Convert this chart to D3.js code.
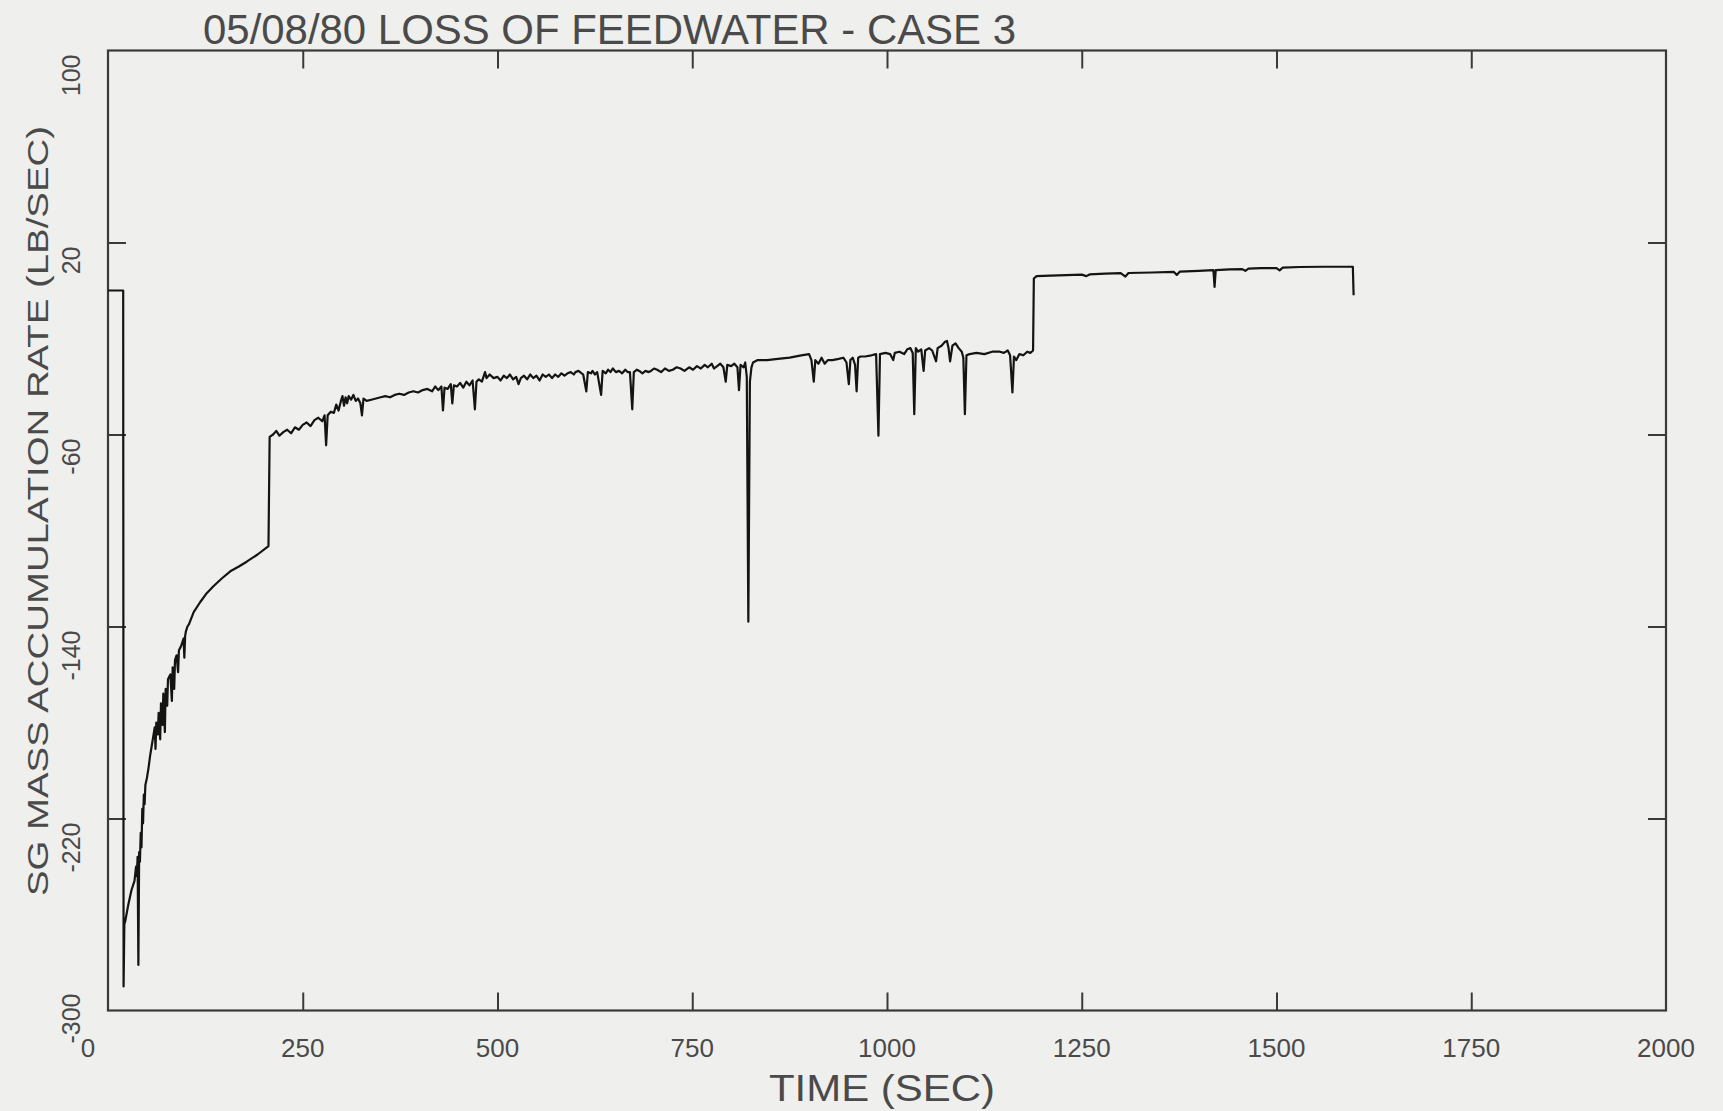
<!DOCTYPE html>
<html>
<head>
<meta charset="utf-8">
<script src="https://cdn.jsdelivr.net/npm/d3@7"></script>
<style>
  html, body { margin: 0; padding: 0; background: #efefed; }
  svg { display: block; }
  text { font-family: "Liberation Sans Narrow", "Liberation Sans", "DejaVu Sans Condensed", sans-serif; fill: #4a4a4a; }
</style>
</head>
<body>
<svg id="chart" width="1723" height="1111"></svg>
<script>
// ---- data ----
const chartTitle = "05/08/80 LOSS OF FEEDWATER - CASE 3";
const xAxisTitle = "TIME (SEC)";
const yAxisTitle = "SG MASS ACCUMULATION RATE (LB/SEC)";
const xTickValues = [0, 250, 500, 750, 1000, 1250, 1500, 1750, 2000];
const yTickValues = [100, 20, -60, -140, -220, -300];

const timeSec = [
  0, 19.5, 20, 21, 22, 26, 30, 34, 36, 37, 38, 39, 40, 41, 42, 43, 44, 45, 46, 47, 48, 50, 52, 54, 56,
  58, 60, 61, 62, 64, 65, 67, 68, 70, 71, 73, 74, 76, 77, 80, 82, 83, 85, 86, 88, 90, 91, 94, 97, 98, 99, 100, 102, 104,
  110, 118, 127, 136, 146, 157, 168, 178, 192, 206,
  207.5, 212, 216, 220, 225, 230, 235, 240, 245, 250, 255, 260, 265, 270, 275, 278, 280, 282, 286, 290, 293, 296, 299,
  301, 303, 305, 307, 309, 312, 315, 318, 321, 324, 326, 328, 332, 338, 344, 350, 356, 362, 368, 374, 380, 386, 392,
  398, 404, 410, 416, 420, 424, 428, 430, 432, 436, 440, 442, 444, 448, 452, 456, 460, 464, 468, 471, 473, 476, 480,
  484, 486, 490, 495, 500, 504, 508, 512, 516, 520, 524, 527, 530, 534, 538, 542, 546, 550, 554, 558, 562, 566, 570,
  574, 578, 582, 586, 590, 594, 598, 600, 604, 608, 610, 614, 616,
  620, 622, 625, 628, 633, 635, 639, 642, 645, 648, 652, 656, 660, 664, 667, 670, 673, 675, 679, 682, 686, 690, 694,
  697, 701, 705, 710, 715, 720, 725, 730, 735, 740, 746, 751, 756, 761, 766, 770, 775, 778, 782,
  786, 790, 793, 795, 800, 804, 808, 810, 812, 816, 818, 820, 822, 824, 826, 828, 834, 846, 860, 875, 890, 900, 903,
  906, 908, 912, 916, 920, 924, 930, 938, 944, 948, 951, 953, 956, 959, 961, 963, 966, 972, 980, 986, 989, 991, 998,
  1004, 1008, 1010, 1016, 1022, 1026, 1030, 1033, 1035, 1037, 1040, 1044, 1047, 1049, 1054, 1058, 1063, 1065, 1070,
  1074, 1077, 1079, 1081, 1084, 1088, 1092, 1096, 1098, 1100, 1102, 1106, 1115, 1125, 1135, 1145, 1150, 1155, 1158,
  1161, 1163, 1166, 1170, 1175, 1180, 1184, 1187.5,
  1188.5, 1192, 1210, 1230, 1250, 1256, 1260, 1280, 1300, 1306, 1310, 1340, 1368, 1372, 1376, 1400, 1419, 1420.5,
  1422, 1440, 1456, 1460, 1464, 1480, 1500, 1504, 1508, 1530, 1560, 1598, 1599
];
const massRate = [
  0, 0, -290, -264, -263, -256, -250, -246, -240, -244, -236, -281, -234, -238, -226, -232, -216, -222, -210, -214, -206, -203, -199, -194, -190,
  -186, -182, -191, -180, -185, -176, -187, -172, -181, -168, -184, -166, -173, -162, -160, -171, -157, -166, -154, -152, -159, -150, -148, -145, -153, -144, -142, -140, -139,
  -134, -130, -126, -123, -120, -117, -115, -113, -110, -106.5,
  -61, -60, -58.5, -60.5, -59, -58, -59.5, -57, -58, -56, -55, -56.5, -54, -53, -54.5, -52, -64.5, -52, -50.5, -51, -47.5, -50, -46,
  -44, -48, -44.5, -47, -44, -45.5, -43.5, -46, -45, -47, -52, -45, -46, -45.5, -45, -44.5, -44, -44.5, -43.5, -43, -43.5, -42.5, -42,
  -42.5, -41.5, -41, -42, -40, -41.5, -40, -50, -40.5, -41, -39, -47, -39.5, -40, -38.5, -40.5, -38, -39.5, -37.5, -49.5, -38, -37, -38,
  -34, -36.5, -35, -36.5, -36, -37.5, -35.5, -36.5, -35, -37, -36, -39, -36.5, -35.5, -37, -35, -36.5, -35.5, -37.5, -35, -36, -35, -36.5,
  -35, -36, -34.5, -35.5, -34.5, -34, -35, -34, -33.5, -34.5, -35, -42, -34,
  -34.5, -33.5, -35, -34, -43.5, -33.5, -34.5, -33, -34, -32.5, -34, -33.5, -34.5, -33, -34, -34, -49.5, -34, -33, -33.5, -34.5, -33.5, -34,
  -33.5, -32.5, -33, -34, -32.5, -33.5, -33, -32, -32.5, -33.5, -32, -33, -31.5, -32.5, -31, -32, -30.5, -32.5, -31.5,
  -30.5, -32, -38, -31, -31.5, -30.5, -32, -41.5, -31, -32, -30, -36, -138, -38, -32, -30, -29, -29, -28.5, -28, -27, -26.5, -29,
  -38, -29, -30.5, -28, -30.5, -29, -29, -28.5, -28, -30, -39, -29, -28, -31, -42, -28, -27.5, -27.5, -27, -26.5, -60.5, -26.5, -26,
  -26.5, -29, -26, -25.5, -26.5, -24.5, -24, -26, -51.5, -24, -25.5, -24.5, -33.5, -25, -24, -25, -29.5, -24, -23,
  -21.5, -21, -24, -29.5, -23, -22, -24, -25.5, -28, -51.5, -27, -26.5, -26, -26.5, -25.5, -25.5, -26, -25, -27,
  -42.5, -27.5, -29, -26.5, -27, -25.5, -26, -25,
  5, 6, 6.2, 6.4, 6.6, 6, 6.7, 7, 7.2, 5.8, 7.3, 7.5, 7.8, 6.5, 7.9, 8.2, 8.5, 1.5,
  8.5, 8.8, 8.9, 8.2, 9.1, 9.3, 9.3, 8.4, 9.5, 9.8, 9.9, 9.9, -2
];

// ---- layout ----
const svg = d3.select("#chart");
const plotL = 108, plotR = 1666, plotT = 50.5, plotB = 1010.5;
const x = d3.scaleLinear().domain([0, 2000]).range([plotL, plotR]);
const y = d3.scaleLinear().domain([-300, 100]).range([plotB, plotT]);
const tickLen = 18;
const axisColor = "#3a3a3a";

// ticks on all four sides, pointing inward
const inner = xTickValues.slice(1, -1);
const innerY = yTickValues.slice(1, -1);
const gB = svg.append("g").attr("transform", `translate(0,${plotB})`)
  .call(d3.axisBottom(x).tickValues(inner).tickSizeInner(-tickLen).tickSizeOuter(0).tickFormat(""));
const gT = svg.append("g").attr("transform", `translate(0,${plotT})`)
  .call(d3.axisTop(x).tickValues(inner).tickSizeInner(-tickLen).tickSizeOuter(0).tickFormat(""));
const gL = svg.append("g").attr("transform", `translate(${plotL},0)`)
  .call(d3.axisLeft(y).tickValues(innerY).tickSizeInner(-tickLen).tickSizeOuter(0).tickFormat(""));
const gR = svg.append("g").attr("transform", `translate(${plotR},0)`)
  .call(d3.axisRight(y).tickValues(innerY).tickSizeInner(-tickLen).tickSizeOuter(0).tickFormat(""));
[gB, gT, gL, gR].forEach(g => {
  g.select(".domain").remove();
  g.selectAll(".tick line").attr("stroke", axisColor).attr("stroke-width", 2);
});

// frame
svg.append("rect")
  .attr("x", plotL).attr("y", plotT)
  .attr("width", plotR - plotL).attr("height", plotB - plotT)
  .attr("fill", "none").attr("stroke", axisColor).attr("stroke-width", 2.2);

// data line
const pts = timeSec.map((t, i) => [t, massRate[i]]);
svg.append("path")
  .datum(pts)
  .attr("fill", "none")
  .attr("stroke", "#141414")
  .attr("stroke-width", 2.2)
  .attr("stroke-linejoin", "round")
  .attr("d", d3.line().x(d => x(d[0])).y(d => y(d[1])));

// x tick labels
svg.append("g").selectAll("text")
  .data(xTickValues).join("text")
  .attr("x", d => x(d) + (d === 0 ? -20 : 0))
  .attr("y", 1057)
  .attr("text-anchor", "middle")
  .attr("font-size", 26)
  .text(d => d);

// y tick labels (rotated)
svg.append("g").selectAll("text")
  .data(yTickValues).join("text")
  .attr("transform", d => `translate(80,${y(d) + (d === -300 ? -17 : 4)}) rotate(-90)`)
  .attr("text-anchor", "end")
  .attr("font-size", 25)
  .text(d => d);

// titles
svg.append("text")
  .attr("x", 203).attr("y", 44)
  .attr("font-size", 42)
  .attr("textLength", 813).attr("lengthAdjust", "spacingAndGlyphs")
  .text(chartTitle);

svg.append("text")
  .attr("x", 769).attr("y", 1101)
  .attr("font-size", 36)
  .attr("textLength", 226).attr("lengthAdjust", "spacingAndGlyphs")
  .text(xAxisTitle);

svg.append("text")
  .attr("transform", `translate(48,896) rotate(-90)`)
  .attr("font-size", 30)
  .attr("textLength", 770).attr("lengthAdjust", "spacingAndGlyphs")
  .text(yAxisTitle);
</script>
</body>
</html>
